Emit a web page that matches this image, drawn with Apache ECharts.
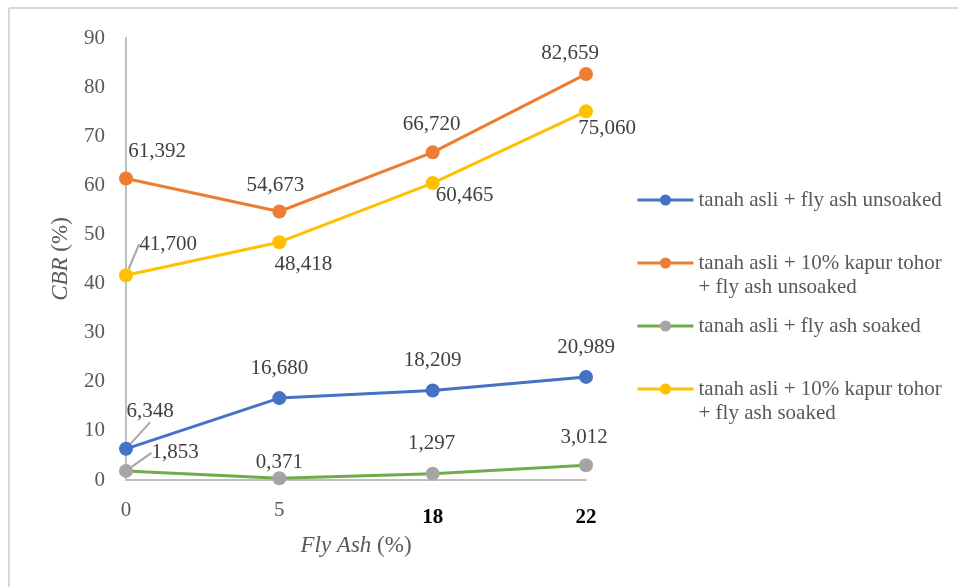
<!DOCTYPE html>
<html>
<head>
<meta charset="utf-8">
<script src="https://cdn.jsdelivr.net/npm/echarts@6/dist/echarts.min.js"></script>
<style>
  html, body { margin: 0; padding: 0; background: #fff; }
  #chart { width: 958px; height: 587px; }
</style>
</head>
<body>
<div id="chart"></div>
<script>
// Fly ash content (%) on the x axis
const flyAsh = ['0', '5', '18', '22'];
const yTicks = [0, 10, 20, 30, 40, 50, 60, 70, 80, 90];

// CBR values (%)
const asliUnsoaked  = [6.348, 16.680, 18.209, 20.989];
const kapurUnsoaked = [61.392, 54.673, 66.720, 82.659];
const asliSoaked    = [1.853, 0.371, 1.297, 3.012];
const kapurSoaked   = [41.700, 48.418, 60.465, 75.060];

const seriesNames = [
  'tanah asli + fly ash unsoaked',
  'tanah asli + 10% kapur tohor\n+ fly ash unsoaked',
  'tanah asli + fly ash soaked',
  'tanah asli + 10% kapur tohor\n+ fly ash soaked'
];

// label offsets from each point (label centre), in px
const labelShift = [
  [[24, -37], [0, -30], [0, -30], [0, -29]],
  [[31, -27], [-4, -26], [-1, -28], [-16, -21]],
  [[49, -18], [0, -16], [-1, -30], [-2, -28]],
  [[42, -31], [24, 22], [32, 12], [21, 17]]
];
// points whose label gets a leader line
const leader = [[true, false, false, false], [false, false, false, false],
                [true, false, false, false], [true, false, false, false]];

const FONT = '"Liberation Serif", "Times New Roman", serif';
const GREY_TEXT = '#595959';
const fmt = v => v.toFixed(3).replace('.', ',');

function makeSeries(idx, values, lineColor, markerColor) {
  return {
    name: seriesNames[idx],
    type: 'line',
    data: values.map((v, i) => ({
      value: v,
      labelLine: { show: leader[idx][i] }
    })),
    symbol: 'circle',
    symbolSize: 14,
    lineStyle: { color: lineColor, width: 3 },
    itemStyle: { color: markerColor },
    label: {
      show: true,
      position: 'inside',
      align: 'center',
      verticalAlign: 'middle',
      fontFamily: FONT,
      fontSize: 21,
      color: '#404040',
      formatter: p => fmt(p.value)
    },
    labelLine: { show: false, lineStyle: { color: '#a6a6a6', width: 2 } },
    labelLayout: p => ({ dx: labelShift[idx][p.dataIndex][0], dy: labelShift[idx][p.dataIndex][1] }),
    emphasis: { disabled: true },
    animation: false
  };
}

const legendTops = [183, 222, 309, 348];
const legends = seriesNames.map((name, i) => ({
  data: [name],
  left: 631,
  top: legendTops[i],
  orient: 'vertical',
  itemWidth: 56,
  itemHeight: 14,
  itemGap: 0,
  selectedMode: false,
  lineStyle: { width: 3 },
  textStyle: {
    fontFamily: FONT, fontSize: 21, color: GREY_TEXT, lineHeight: 24
  },
  // single-line names stay as they are; two-line names keep the icon on the first line
  formatter: n => n.indexOf('\n') >= 0 ? ' \n' + n : n
}));

const chart = echarts.init(document.getElementById('chart'), null, { renderer: 'canvas' });
chart.setOption({
  backgroundColor: '#ffffff',
  animation: false,
  grid: { left: 126, right: 372, top: 38, bottom: 107, containLabel: false },
  legend: legends,
  xAxis: {
    type: 'category',
    data: flyAsh,
    boundaryGap: false,
    axisLine: { lineStyle: { color: '#bfbfbf', width: 2 } },
    axisTick: { show: false },
    splitLine: { show: false },
    axisLabel: {
      margin: 20,
      fontFamily: FONT,
      fontSize: 21,
      color: GREY_TEXT,
      formatter: (v, i) => i >= 2 ? '{b|' + v + '}' : v,
      rich: {
        b: { fontFamily: FONT, fontSize: 21, fontWeight: 'bold', color: '#000', padding: [7, 0, 0, 0] }
      }
    },
    name: '{i|Fly Ash} (%)',
    nameLocation: 'middle',
    nameGap: 54,
    nameTextStyle: {
      fontFamily: FONT, fontSize: 23, color: GREY_TEXT,
      rich: { i: { fontFamily: FONT, fontSize: 23, fontStyle: 'italic', color: GREY_TEXT } }
    }
  },
  yAxis: {
    type: 'value',
    min: yTicks[0],
    max: yTicks[yTicks.length - 1],
    interval: yTicks[1] - yTicks[0],
    axisLine: { show: true, lineStyle: { color: '#bfbfbf', width: 2 } },
    axisTick: { show: false },
    splitLine: { show: false },
    axisLabel: { margin: 21, fontFamily: FONT, fontSize: 21, color: GREY_TEXT },
    name: '{i|CBR} (%)',
    nameLocation: 'middle',
    nameRotate: 90,
    nameGap: 54,
    nameTextStyle: {
      fontFamily: FONT, fontSize: 23, color: GREY_TEXT,
      rich: { i: { fontFamily: FONT, fontSize: 23, fontStyle: 'italic', color: GREY_TEXT } }
    }
  },
  graphic: [
    { type: 'line', shape: { x1: 9, y1: 8, x2: 958, y2: 8 }, style: { stroke: '#d9d9d9', lineWidth: 2 }, silent: true },
    { type: 'line', shape: { x1: 9, y1: 8, x2: 9, y2: 587 }, style: { stroke: '#d9d9d9', lineWidth: 2 }, silent: true }
  ],
  series: [
    makeSeries(0, asliUnsoaked, '#4472c4', '#4472c4'),
    makeSeries(1, kapurUnsoaked, '#ed7d31', '#ed7d31'),
    makeSeries(2, asliSoaked, '#70ad47', '#a5a5a5'),
    makeSeries(3, kapurSoaked, '#ffc000', '#ffc000')
  ]
});
</script>
</body>
</html>
